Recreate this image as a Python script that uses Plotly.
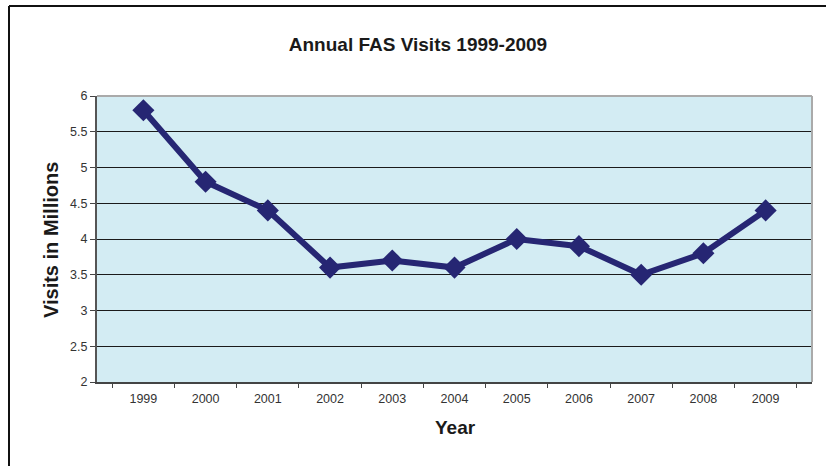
import plotly.graph_objects as go

years = ["1999", "2000", "2001", "2002", "2003", "2004", "2005", "2006", "2007", "2008", "2009"]
visits = [5.8, 4.8, 4.4, 3.6, 3.7, 3.6, 4.0, 3.9, 3.5, 3.8, 4.4]
y_ticks = [2, 2.5, 3, 3.5, 4, 4.5, 5, 5.5, 6]

W, H = 826, 466
L, R, T, B = 97, 14, 96, 84
pw, ph = W - L - R, H - T - B


def px_x(x):
    return (x - L) / pw


def px_y(y):
    return (H - B - y) / ph


fig = go.Figure()
fig.add_trace(go.Scatter(
    x=years, y=visits, mode="lines+markers",
    line=dict(color="#262673", width=6),
    marker=dict(symbol="diamond", size=17, color="#262673"),
    showlegend=False,
    hoverinfo="skip",
))

tick_font = dict(family="Arial, Liberation Sans, sans-serif", size=12.5, color="#333")

fig.update_layout(
    width=W, height=H,
    margin=dict(l=L, r=R, t=T, b=B),
    paper_bgcolor="white",
    plot_bgcolor="#D3ECF3",
    font=dict(family="Arial, Liberation Sans, sans-serif", color="#222"),
    title=dict(text="<b>Annual FAS Visits 1999-2009</b>", x=418 / W, xanchor="center",
               xref="container", y=1 - 44 / H, yanchor="middle", yref="container",
               font=dict(size=19, color="#1a1a1a")),
    xaxis=dict(
        type="category", tickson="boundaries", ticks="outside", ticklen=4,
        tickcolor="#444", showgrid=False, showline=True, linecolor="#444", linewidth=2,
        tickfont=tick_font, ticklabelstandoff=4,
    ),
    yaxis=dict(
        range=[2, 6], tickvals=y_ticks, ticks="outside", ticklen=5, tickcolor="#444",
        showgrid=True, gridcolor="#1a1a1a", gridwidth=1, showline=True, linecolor="#555",
        linewidth=2, zeroline=False, tickfont=tick_font,
    ),
    annotations=[
        dict(text="<b>Visits in Millions</b>", textangle=-90, xref="paper", yref="paper",
             x=px_x(51), y=px_y(240), xanchor="center", yanchor="middle", showarrow=False,
             font=dict(size=20, color="#1a1a1a")),
        dict(text="<b>Year</b>", xref="paper", yref="paper",
             x=px_x(455), y=px_y(427), xanchor="center", yanchor="middle", showarrow=False,
             font=dict(size=19, color="#1a1a1a")),
    ],
    shapes=[
        dict(type="line", xref="paper", yref="paper", x0=0, x1=1, y0=1, y1=1,
             line=dict(color="#aaaaaa", width=2), layer="above"),
        dict(type="line", xref="paper", yref="paper", x0=1, x1=1, y0=0, y1=1,
             line=dict(color="#aaaaaa", width=2), layer="above"),
        dict(type="line", xref="paper", yref="paper", x0=px_x(9), x1=px_x(9),
             y0=px_y(6), y1=px_y(470), line=dict(color="#111", width=2)),
        dict(type="line", xref="paper", yref="paper", x0=px_x(9), x1=px_x(830),
             y0=px_y(6), y1=px_y(6), line=dict(color="#111", width=2)),
    ],
)

fig.write_html("out.html", config={"displayModeBar": False},
               post_script="document.body.style.margin='0';document.body.style.padding='0';")
